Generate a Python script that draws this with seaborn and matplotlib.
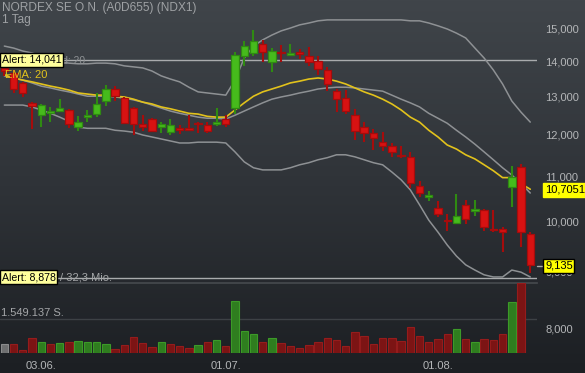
import numpy as np
import pandas as pd
import matplotlib
matplotlib.use("Agg")
import matplotlib.pyplot as plt
import seaborn as sns
from matplotlib.colors import LinearSegmentedColormap
from matplotlib.ticker import FixedLocator, NullLocator, FuncFormatter

# --- data --------------------------------------------------------------------
title = "NORDEX SE O.N. (A0D655) (NDX1)"
period = "1 Tag"

opens = [13.82, 13.68, 13.39, 12.84, 12.51, 12.56, 12.62, 12.65, 12.20, 12.46,
         12.54, 12.89, 13.22, 12.97, 12.70, 12.28, 12.41, 12.20, 12.07, 12.17,
         12.17, 12.30, 12.25, 12.29, 12.41, 12.70, 14.17, 14.26, 14.54, 14.00,
         14.29, 14.20, 14.29, 14.17, 14.02, 13.76, 13.16, 12.97, 12.51, 12.20,
         12.05, 11.82, 11.73, 11.51, 11.46, 10.78, 10.53, 10.29, 10.03, 9.97,
         10.36, 10.23, 10.25, 9.84, 9.84, 10.76, 11.22, 9.74]
highs = [13.85, 13.76, 13.42, 12.86, 12.81, 12.73, 12.95, 12.68, 12.48, 12.65,
         13.11, 13.33, 13.30, 13.00, 12.73, 12.51, 12.43, 12.33, 12.41, 12.25,
         12.51, 12.33, 12.33, 12.70, 12.51, 14.29, 14.63, 14.97, 14.66, 14.41,
         14.50, 14.53, 14.38, 14.44, 14.17, 13.85, 13.22, 13.19, 12.68, 12.33,
         12.15, 12.07, 11.80, 11.73, 11.58, 10.90, 10.67, 10.45, 10.16, 10.60,
         10.47, 10.47, 10.27, 10.25, 9.88, 11.25, 11.29, 9.78]
lows = [13.59, 13.11, 13.00, 12.15, 12.20, 12.33, 12.59, 12.17, 12.10, 12.33,
        12.46, 12.75, 12.89, 12.29, 12.00, 12.10, 12.07, 12.05, 12.00, 12.02,
        12.10, 12.05, 12.05, 12.23, 12.20, 12.54, 13.88, 14.17, 14.00, 13.71,
        14.00, 14.17, 14.09, 13.88, 13.62, 13.16, 12.59, 12.54, 11.87, 11.82,
        11.63, 11.61, 11.46, 11.44, 10.74, 10.53, 10.45, 10.10, 9.80, 9.95,
        9.95, 10.12, 9.80, 9.78, 9.38, 10.32, 9.48, 8.98]
closes = [13.73, 13.22, 13.11, 12.75, 12.78, 12.62, 12.70, 12.28, 12.33, 12.51,
          12.81, 13.22, 13.02, 12.30, 12.28, 12.20, 12.10, 12.28, 12.25, 12.13,
          12.12, 12.27, 12.10, 12.33, 12.28, 14.20, 14.47, 14.63, 14.29, 14.32,
          14.26, 14.26, 14.24, 14.00, 13.79, 13.36, 12.95, 12.62, 12.10, 12.05,
          11.92, 11.73, 11.58, 11.47, 10.85, 10.62, 10.58, 10.16, 10.01, 10.12,
          10.05, 10.27, 9.89, 9.82, 9.78, 10.99, 9.78, 9.135]

ema20 = [13.62, 13.53, 13.47, 13.42, 13.36, 13.30, 13.25, 13.19, 13.11, 13.08,
         13.05, 13.05, 13.02, 13.00, 12.94, 12.86, 12.81, 12.73, 12.68, 12.62,
         12.56, 12.54, 12.48, 12.46, 12.46, 12.65, 12.84, 13.02, 13.14, 13.22,
         13.30, 13.39, 13.44, 13.50, 13.53, 13.50, 13.44, 13.36, 13.25, 13.14,
         13.05, 12.94, 12.81, 12.65, 12.46, 12.33, 12.12, 11.95, 11.75, 11.65,
         11.51, 11.41, 11.27, 11.13, 10.97, 10.97, 10.83, 10.7051]
bb_upper = [14.47, 14.41, 14.32, 14.26, 14.17, 14.08, 13.99, 13.96, 13.94, 13.94,
            13.96, 13.96, 13.94, 13.88, 13.85, 13.82, 13.73, 13.59, 13.50, 13.42,
            13.27, 13.14, 13.11, 13.08, 13.05, 13.47, 14.11, 14.47, 14.66, 14.81,
            14.94, 15.03, 15.13, 15.19, 15.26, 15.29, 15.29, 15.29, 15.29, 15.29,
            15.29, 15.29, 15.29, 15.29, 15.26, 15.26, 15.19, 15.10, 15.00, 14.87,
            14.72, 14.41, 14.11, 13.76, 13.36, 12.89, 12.59, 12.33]
bb_mid = [13.59, 13.53, 13.47, 13.39, 13.30, 13.25, 13.19, 13.14, 13.08, 13.02,
          13.02, 13.02, 13.00, 12.97, 12.92, 12.86, 12.78, 12.70, 12.62, 12.56,
          12.51, 12.46, 12.43, 12.43, 12.41, 12.51, 12.62, 12.73, 12.84, 12.94,
          13.00, 13.05, 13.11, 13.16, 13.22, 13.25, 13.27, 13.27, 13.25, 13.22,
          13.19, 13.16, 13.05, 12.94, 12.84, 12.73, 12.56, 12.43, 12.30, 12.12,
          11.95, 11.77, 11.58, 11.39, 11.20, 11.03, 10.83, 10.62]
bb_lower = [12.78, 12.78, 12.78, 12.73, 12.65, 12.56, 12.46, 12.35, 12.20, 12.17,
            12.17, 12.17, 12.12, 12.10, 12.07, 12.00, 11.95, 11.90, 11.85, 11.80,
            11.80, 11.82, 11.82, 11.82, 11.80, 11.58, 11.34, 11.20, 11.15, 11.15,
            11.15, 11.20, 11.27, 11.32, 11.39, 11.44, 11.51, 11.51, 11.46, 11.39,
            11.32, 11.27, 11.10, 10.92, 10.69, 10.36, 10.03, 9.78, 9.52, 9.30,
            9.13, 9.03, 8.94, 8.90, 8.90, 9.03, 8.99, 8.90]

# volume in million shares (last candle has no volume bar yet)
volume_mio = [0.42, 0.42, 0.12, 0.67, 0.49, 0.40, 0.43, 0.48, 0.52, 0.48,
              0.48, 0.39, 0.19, 0.37, 0.74, 0.45, 0.28, 0.48, 0.40, 0.30,
              0.24, 0.37, 0.48, 0.60, 0.33, 2.34, 1.01, 0.86, 0.51, 0.67,
              0.43, 0.33, 0.24, 0.36, 0.51, 0.66, 0.58, 0.33, 0.95, 0.77,
              0.42, 0.69, 0.69, 0.54, 1.19, 0.76, 0.48, 0.63, 0.85, 1.07,
              0.63, 0.51, 0.64, 0.57, 0.85, 2.32, 3.16]

date_tick_pos = [4, 24, 47]
date_tick_labels = ["03.06.", "01.07.", "01.08."]
price_ticks = [9, 10, 11, 12, 13, 14, 15]
alert_high = 14.041
alert_low = 8.878
vol_ref = 1.549137

# --- styling -----------------------------------------------------------------
sns.set_theme(style="dark", rc={"axes.facecolor": "none", "figure.facecolor": "#2c3035"})
plt.rcParams['font.family'] = ['Liberation Sans', 'DejaVu Sans']

UP_FILL, UP_EDGE = "#46bb1c", "#2f8a12"
DN_FILL, DN_EDGE = "#d81212", "#a50c0c"
TXT = "#b4b6b8"

W, H = 585, 373
fig = plt.figure(figsize=(W / 100, H / 100), dpi=100)

# background gradient
bg = fig.add_axes([0, 0, 1, 1], zorder=-10)
grad = np.linspace(0, 1, 256).reshape(-1, 1)
bg.imshow(grad, aspect="auto", extent=[0, 1, 0, 1], origin="upper",
          cmap=LinearSegmentedColormap.from_list("bg", ["#40454a", "#2f3338", "#1c1f23"]))
bg.axis("off")

plot_w = 537 / W
ax = fig.add_axes([0, 91 / H, plot_w, 282 / H])
vax = fig.add_axes([0, 20 / H, plot_w, 70 / H])

df = pd.DataFrame({"idx": np.arange(len(closes)), "open": opens, "high": highs,
                   "low": lows, "close": closes, "ema": ema20,
                   "upper": bb_upper, "mid": bb_mid, "lower": bb_lower})

# bollinger bands and ema
for col in ["upper", "mid", "lower"]:
    sns.lineplot(data=df, x="idx", y=col, color="#8e9194", lw=1.1, ax=ax, zorder=2)
sns.lineplot(data=df, x="idx", y="ema", color="#e2c21c", lw=1.2, ax=ax, zorder=3)

# candles
up = df["close"] > df["open"]
edge = np.where(up, UP_EDGE, DN_EDGE)
fill = np.where(up, UP_FILL, DN_FILL)
ax.vlines(df["idx"], df["low"], df["high"], colors=edge, lw=1.5, zorder=4)
body_lo = np.minimum(df["open"], df["close"])
body_hi = np.maximum(df["open"], df["close"])
ax.bar(df["idx"], body_hi - body_lo, bottom=body_lo, width=0.8,
       color=fill, edgecolor=edge, lw=0.9, zorder=5)

# alert lines
ax.axhline(alert_high, color="#a9abad", lw=1.0, zorder=1)
ax.axhline(alert_low, color="#a9abad", lw=1.0, zorder=1)

ax.set_yscale("log")
ax.set_ylim(8.806, 15.944)
ax.set_xlim(-0.47, 57.73)
ax.yaxis.set_major_locator(FixedLocator(price_ticks))
ax.yaxis.set_minor_locator(NullLocator())
ax.yaxis.set_major_formatter(FuncFormatter(lambda v, p: f"{v:.3f}".replace(".", ",")))
ax.yaxis.tick_right()
ax.tick_params(axis="y", length=0, pad=6, labelsize=8, labelcolor=TXT)
ax.set_xticks([])
ax.set_xlabel("")
ax.set_ylabel("")
for s in ax.spines.values():
    s.set_visible(False)
ax.grid(False)

# volume
vol = np.array(volume_mio)
cl = np.array(closes[:len(vol)])
vol_up = np.r_[False, cl[1:] > cl[:-1]]
vfill = np.where(vol_up, "#2f7d1f", "#7c1414")
vedge = np.where(vol_up, "#3c9a28", "#951c1c")
vfill[0], vedge[0] = "#6e6f70", "#8a8b8c"
vax.bar(np.arange(len(vol)), vol, width=0.8, color=vfill, edgecolor=vedge, lw=0.8, zorder=3)
vax.axhline(vol_ref, color="#3d4145", lw=1.0, zorder=1)
vax.set_ylim(0, 3.16)
vax.set_xlim(-0.47, 57.73)
vax.set_yticks([])
vax.set_xticks(date_tick_pos)
vax.set_xticklabels(date_tick_labels)
vax.tick_params(axis="x", length=0, pad=6, labelsize=8, labelcolor=TXT)
for s in vax.spines.values():
    s.set_visible(False)
vax.spines["top"].set_visible(True)
vax.spines["top"].set_color("#45494d")
vax.grid(False)


def fx(px):
    return px / W


def fy(py):
    return 1 - py / H


# header texts
fig.text(fx(2), fy(2), title, color="#9ea1a4", fontsize=8.6, va="top", ha="left")
fig.text(fx(2), fy(14), period, color="#9ea1a4", fontsize=8.6, va="top", ha="left")

# legend-like labels on the chart
fig.text(fx(1), fy(61), "Bollinger Band: 20", color="#8e9194", fontsize=7.4, va="center", ha="left")
fig.text(fx(2), fy(60), "Alert: 14,041", color="black", fontsize=7.6, va="center", ha="left",
         bbox=dict(boxstyle="square,pad=0.15", fc="#ffff9c", ec="black", lw=1), zorder=10)
fig.text(fx(5), fy(75), "EMA: 20", color="#e2c21c", fontsize=8, va="center", ha="left", zorder=10)

fig.text(fx(2), fy(277), "Alert: 8,878", color="black", fontsize=7.6, va="center", ha="left",
         bbox=dict(boxstyle="square,pad=0.15", fc="#ffff9c", ec="black", lw=1), zorder=10)
fig.text(fx(60), fy(277), "/ 32,3 Mio.", color="#a4a6a8", fontsize=8, va="center", ha="left")
fig.text(fx(1), fy(313), "1.549.137 S.", color="#a4a6a8", fontsize=8, va="center", ha="left")
fig.text(fx(545), fy(329), "8,000", color=TXT, fontsize=8, va="center", ha="left")

# last values on the right axis
fig.text(fx(545), fy(190), "10,7051", color="black", fontsize=8, va="center", ha="left",
         bbox=dict(boxstyle="square,pad=0.15", fc="#ffff00", ec="#ffff00", lw=1), zorder=10)
fig.lines.append(plt.Line2D([fx(537), fx(542)], [fy(266), fy(266)], color="#a9abad",
                            lw=1, transform=fig.transFigure))
fig.text(fx(545), fy(266), "9,135", color="black", fontsize=8, va="center", ha="left",
         bbox=dict(boxstyle="square,pad=0.15", fc="#ffff00", ec="black", lw=1), zorder=10)

fig.savefig("out.png", dpi=100)
